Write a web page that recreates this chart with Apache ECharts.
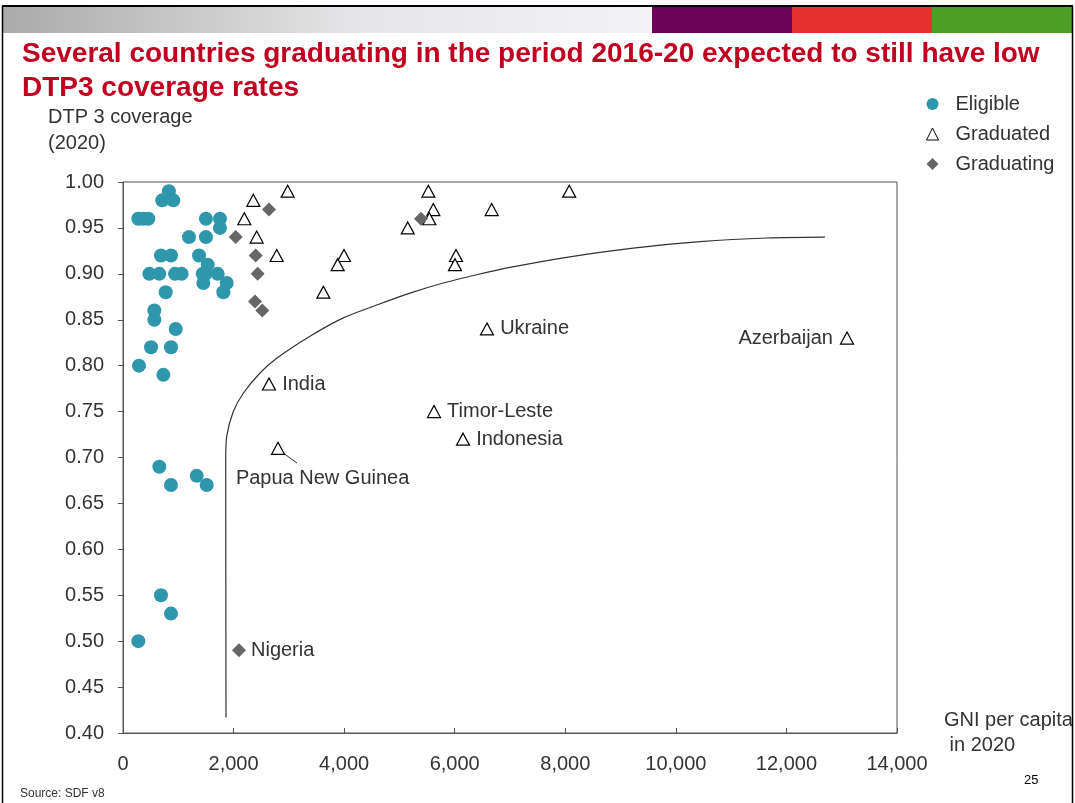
<!DOCTYPE html>
<html>
<head>
<meta charset="utf-8">
<script src="https://cdn.jsdelivr.net/npm/echarts@6/dist/echarts.min.js"></script>
<style>
html,body{margin:0;padding:0;background:#fff;}
#chart{width:1075px;height:803px;}
</style>
</head>
<body>
<div id="chart"></div>
<script>
// ---- Data ----
const xTicks = [0, 2000, 4000, 6000, 8000, 10000, 12000, 14000];
const yTicks = [0.40, 0.45, 0.50, 0.55, 0.60, 0.65, 0.70, 0.75, 0.80, 0.85, 0.90, 0.95, 1.00];

// [GNI per capita 2020, DTP3 coverage 2020]
const eligible = [
  [830, 0.99], [710, 0.98], [910, 0.98],
  [277, 0.96], [368, 0.96], [458, 0.96], [1500, 0.96], [1754, 0.96],
  [1754, 0.95], [1194, 0.94], [1500, 0.94],
  [687, 0.92], [868, 0.92], [1375, 0.92], [1532, 0.91],
  [476, 0.90], [657, 0.90], [941, 0.90], [1061, 0.90], [1441, 0.90], [1496, 0.90], [1713, 0.90],
  [1453, 0.89], [1875, 0.89], [1815, 0.88], [772, 0.88],
  [567, 0.86], [567, 0.85], [953, 0.84],
  [507, 0.82], [868, 0.82], [289, 0.80], [730, 0.79],
  [657, 0.69], [1333, 0.68], [868, 0.67], [1514, 0.67],
  [687, 0.55], [868, 0.53], [277, 0.50]
];

const graduated = [
  [2979, 0.99], [2357, 0.98], [2194, 0.96], [2418, 0.94], [2780, 0.92],
  [3997, 0.92], [3883, 0.91], [3624, 0.88],
  [5523, 0.99], [5613, 0.97], [5541, 0.96], [5150, 0.95], [6669, 0.97],
  [6023, 0.92], [6005, 0.91], [8071, 0.99]
];
const graduatedNamed = [
  ['India', 2641, 0.78],
  ['Papua New Guinea', 2804, 0.71],
  ['Timor-Leste', 5625, 0.75],
  ['Indonesia', 6150, 0.72],
  ['Ukraine', 6584, 0.84],
  ['Azerbaijan', 13096, 0.83]
];

const graduating = [
  [2641, 0.97], [2038, 0.94], [2400, 0.92], [2436, 0.90], [2388, 0.87], [2520, 0.86], [5390, 0.96]
];
const graduatingNamed = [
  ['Nigeria', 2098, 0.49]
];

// hand-drawn threshold curve
const curve = [
  [1863, 0.417], [1858, 0.697], [1876, 0.723], [1995, 0.750], [2176, 0.770],
  [2478, 0.792], [2780, 0.808], [3382, 0.832], [3985, 0.852], [4589, 0.866],
  [5191, 0.879], [5793, 0.890], [6397, 0.899], [6999, 0.907], [8025, 0.918],
  [9230, 0.928], [10436, 0.935], [11643, 0.939], [12697, 0.940]
];
// connector line for the Papua New Guinea label
const pngConnector = [[2894, 0.705], [3147, 0.694]];

// ---- Styles ----
const FONT = '"Liberation Sans", Arial, sans-serif';
const TXT = '#333333';
const TEAL = '#2E97AB';
const GREY = '#666666';

const labelStyle = {
  'India': {position: 'right', distance: 6},
  'Papua New Guinea': {position: [-35, 37], align: 'left', verticalAlign: 'middle'},
  'Timor-Leste': {position: 'right', distance: 6},
  'Indonesia': {position: 'right', distance: 6},
  'Ukraine': {position: 'right', distance: 6},
  'Azerbaijan': {position: 'left', distance: 7},
  'Nigeria': {position: 'right', distance: 5}
};
function namedItems(arr) {
  return arr.map(([n, x, y]) => ({
    name: n, value: [x, y],
    label: Object.assign({show: true, formatter: n, color: TXT, fontSize: 20, fontFamily: FONT}, labelStyle[n])
  }));
}

const chart = echarts.init(document.getElementById('chart'), null, {renderer: 'canvas'});

const option = {
  animation: false,
  backgroundColor: '#ffffff',
  textStyle: {fontFamily: FONT},
  grid: {left: 123, right: 178, top: 182, bottom: 70, show: true, borderColor: '#555', borderWidth: 1, backgroundColor: 'transparent'},
  legend: {
    orient: 'vertical',
    left: 921, top: 89,
    itemGap: 10,
    itemWidth: 12, itemHeight: 12,
    textStyle: {fontSize: 20, color: TXT, fontFamily: FONT, padding: [0, 0, 0, 12]},
    data: [
      {name: 'Eligible', icon: 'circle', itemStyle: {color: TEAL}},
      {name: 'Graduated', icon: 'triangle', itemStyle: {color: '#fff', borderColor: '#000', borderWidth: 1}},
      {name: 'Graduating', icon: 'diamond', itemStyle: {color: GREY}}
    ]
  },
  xAxis: {
    type: 'value', min: xTicks[0], max: xTicks[xTicks.length - 1], interval: 2000,
    axisLine: {show: true, lineStyle: {color: '#555', width: 1}},
    axisTick: {show: true, inside: true, length: 5, lineStyle: {color: '#555'}},
    splitLine: {show: false},
    axisLabel: {fontSize: 20, color: TXT, fontFamily: FONT, margin: 21,
      formatter: v => v.toLocaleString('en-US')}
  },
  yAxis: {
    type: 'value', min: yTicks[0], max: yTicks[yTicks.length - 1], interval: 0.05,
    axisLine: {show: true, lineStyle: {color: '#555', width: 1}},
    axisTick: {show: true, inside: false, length: 5, lineStyle: {color: '#555'}},
    splitLine: {show: false},
    axisLabel: {fontSize: 20, color: TXT, fontFamily: FONT, margin: 19,
      formatter: v => v.toFixed(2)}
  },
  series: [
    {
      name: 'Curve', type: 'line', data: curve, smooth: 0.3, showSymbol: false, silent: true,
      lineStyle: {color: '#333', width: 1.2}, z: 1
    },
    {
      name: 'Connector', type: 'line', data: pngConnector, showSymbol: false, silent: true,
      lineStyle: {color: '#333', width: 1}, z: 1
    },
    {
      name: 'Eligible', type: 'scatter', data: eligible, symbol: 'circle', symbolSize: 14,
      itemStyle: {color: TEAL, opacity: 1}, z: 3
    },
    {
      name: 'Graduated', type: 'scatter',
      data: graduated.concat(namedItems(graduatedNamed)),
      symbol: 'triangle', symbolSize: [13, 12],
      itemStyle: {color: '#ffffff', borderColor: '#000', borderWidth: 1.2, opacity: 1}, z: 4
    },
    {
      name: 'Graduating', type: 'scatter',
      data: graduating.concat(namedItems(graduatingNamed)),
      symbol: 'diamond', symbolSize: 14,
      itemStyle: {color: GREY, opacity: 1}, z: 5
    }
  ],
  graphic: [
    // top decorative bar
    {type: 'rect', left: 3, top: 7, shape: {width: 649, height: 26},
      style: {fill: new echarts.graphic.LinearGradient(0, 0, 1, 0, [
        {offset: 0, color: '#AAAAAA'}, {offset: 0.55, color: '#E6E6E8'}, {offset: 1, color: '#F3F3F5'}])}},
    {type: 'rect', left: 652, top: 7, shape: {width: 140, height: 26}, style: {fill: '#6B0457'}},
    {type: 'rect', left: 792, top: 7, shape: {width: 140, height: 26}, style: {fill: '#E5302D'}},
    {type: 'rect', left: 932, top: 7, shape: {width: 140, height: 26}, style: {fill: '#4C9E25'}},
    // title
    {type: 'text', left: 22, top: 37, style: {
      text: 'Several countries graduating in the period 2016-20 expected to still have low\nDTP3 coverage rates',
      font: 'bold 28px ' + FONT, fill: '#C0001F', lineHeight: 34}},
    // y axis title
    {type: 'text', left: 48, top: 104, style: {text: 'DTP 3 coverage\n(2020)', font: '20px ' + FONT, fill: TXT, lineHeight: 26}},
    // x axis title
    {type: 'text', left: 944, top: 708, style: {text: 'GNI per capita\n in 2020', font: '20px ' + FONT, fill: TXT, lineHeight: 25}},
    // page number and source
    {type: 'text', left: 1024, top: 774, style: {text: '25', font: '13px ' + FONT, fill: '#000'}},
    {type: 'text', left: 20, top: 788, style: {text: 'Source: SDF v8', font: '12px ' + FONT, fill: TXT}},
    // slide frame (drawn on top so overflowing text is cut like the reference)
    {type: 'rect', left: 1073, top: 0, z: 100, shape: {width: 2, height: 803}, style: {fill: '#fff'}},
    {type: 'line', z: 101, shape: {x1: 2, y1: 6, x2: 1073, y2: 6}, style: {stroke: '#000', lineWidth: 2}},
    {type: 'line', z: 101, shape: {x1: 2.5, y1: 6, x2: 2.5, y2: 803}, style: {stroke: '#000', lineWidth: 1.5}},
    {type: 'line', z: 101, shape: {x1: 1072.5, y1: 6, x2: 1072.5, y2: 803}, style: {stroke: '#000', lineWidth: 1.5}}
  ]
};
chart.setOption(option);
</script>
</body>
</html>
